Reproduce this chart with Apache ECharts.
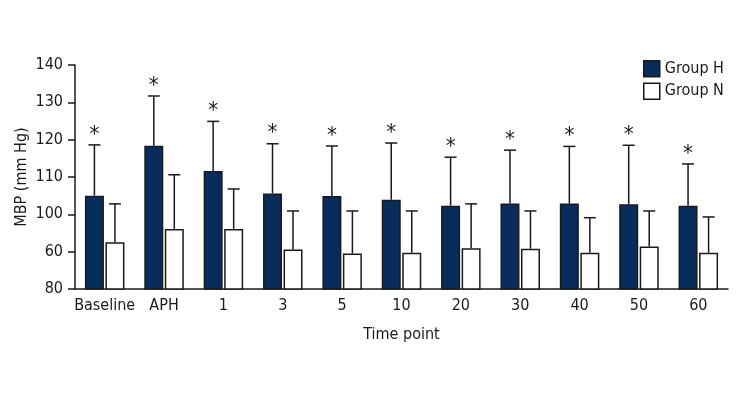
<!DOCTYPE html>
<html>
<head>
<meta charset="utf-8">
<script src="https://cdn.jsdelivr.net/npm/echarts@6/dist/echarts.min.js"></script>
<style>
  html, body { margin: 0; padding: 0; background: #fff; }
  #chart { width: 740px; height: 400px; }
</style>
</head>
<body>
<div id="chart"></div>
<script>
// values
var categories = ['Baseline', 'APH', '1', '3', '5', '10', '20', '30', '40', '50', '60']
var groupH = [105.0, 118.4, 111.6, 105.6, 104.9, 103.9, 102.3, 102.9, 102.9, 102.7, 102.3]
var groupHErrTop = [118.6, 131.7, 124.9, 118.9, 118.3, 119.1, 115.3, 117.2, 118.2, 118.5, 113.5]
var groupN = [92.5, 96.1, 96.1, 90.6, 89.5, 89.7, 90.9, 90.8, 89.7, 91.4, 89.7]
var groupNErrTop = [102.8, 110.6, 106.8, 100.9, 100.9, 100.9, 102.8, 100.9, 99.1, 100.9, 99.3]
// tick labels exactly as printed (the 90 tick is labelled "60" in the source)
var yTickLabels = ['80', '60', '100', '110', '120', '130', '140']

var FONT = '"DejaVu Sans Condensed", Roboto, sans-serif'
var BAR_W = 0.32 // bar width as share of the category band
var BAR_GAP = 0.08 // gap as share of bar width
var INK = '#1a1a1a'

// error bar + optional asterisk, placed on the matching bar
function errRenderer (side, withStar) {
  return function (params, api) {
    var idx = api.value(0)
    var band = api.size([1, 0])[0]
    var bw = band * BAR_W
    var shift = side * (bw + bw * BAR_GAP) / 2
    var base = api.coord([idx, api.value(1)])
    var top = api.coord([idx, api.value(2)])
    var x = base[0] + shift
    var style = { stroke: INK, lineWidth: 1.5 }
    var kids = [
      { type: 'line', shape: { x1: x, y1: base[1], x2: x, y2: top[1] }, style: style },
      { type: 'line', shape: { x1: x - 6, y1: top[1], x2: x + 6, y2: top[1] }, style: style }
    ]
    if (withStar) {
      kids.push({
        type: 'text',
        style: {
          text: '*', x: x, y: top[1] + 1, align: 'center', verticalAlign: 'bottom',
          fontSize: 22, fontFamily: FONT, fill: INK
        }
      })
    }
    return { type: 'group', children: kids }
  }
}

var chart = echarts.init(document.getElementById('chart'))
chart.setOption({
  animation: false,
  textStyle: { fontFamily: FONT },
  legend: {
    orient: 'vertical',
    left: 643,
    top: 60,
    padding: 0,
    itemWidth: 16,
    itemHeight: 16,
    itemGap: 5,
    icon: 'rect',
    data: ['Group H', 'Group N'],
    itemStyle: { borderColor: INK, borderWidth: 1.5 },
    textStyle: { fontSize: 16, color: INK, fontFamily: FONT }
  },
  grid: { left: 75, right: 12, top: 65, bottom: 111 },
  xAxis: {
    type: 'category',
    data: categories,
    name: 'Time point',
    nameLocation: 'middle',
    nameGap: 38,
    nameTextStyle: { fontSize: 16, color: INK, fontFamily: FONT },
    axisLine: { lineStyle: { color: INK, width: 1.5 } },
    axisTick: { length: 8, lineStyle: { color: INK, width: 1.5 } },
    axisLabel: { fontSize: 16, color: INK, margin: 9, interval: 0 }
  },
  yAxis: {
    type: 'value',
    min: 80,
    max: 140,
    interval: 10,
    name: 'MBP (mm Hg)',
    nameLocation: 'middle',
    nameGap: 45,
    nameMoveOverlap: false,
    nameTextStyle: { fontSize: 16, color: INK, fontFamily: FONT },
    axisLine: { show: true, lineStyle: { color: INK, width: 1.5 } },
    axisTick: { show: true, length: 7, lineStyle: { color: INK, width: 1.5 } },
    splitLine: { show: false },
    axisLabel: {
      fontSize: 16, color: INK, margin: 12,
      formatter: function (v) { return yTickLabels[Math.round((v - 80) / 10)] }
    }
  },
  series: [
    {
      name: 'Group H',
      type: 'bar',
      barWidth: (BAR_W * 100) + '%',
      barGap: (BAR_GAP * 100) + '%',
      itemStyle: { color: '#082d5c', borderColor: INK, borderWidth: 1.5 },
      data: groupH
    },
    {
      name: 'Group N',
      type: 'bar',
      barWidth: (BAR_W * 100) + '%',
      itemStyle: { color: '#fff', borderColor: INK, borderWidth: 1.5 },
      data: groupN
    },
    {
      type: 'custom',
      renderItem: errRenderer(-1, true),
      encode: { x: 0, y: [1, 2] },
      z: 3,
      data: categories.map(function (c, i) { return [i, groupH[i], groupHErrTop[i]] })
    },
    {
      type: 'custom',
      renderItem: errRenderer(1, false),
      encode: { x: 0, y: [1, 2] },
      z: 3,
      data: categories.map(function (c, i) { return [i, groupN[i], groupNErrTop[i]] })
    }
  ]
})
</script>
</body>
</html>
